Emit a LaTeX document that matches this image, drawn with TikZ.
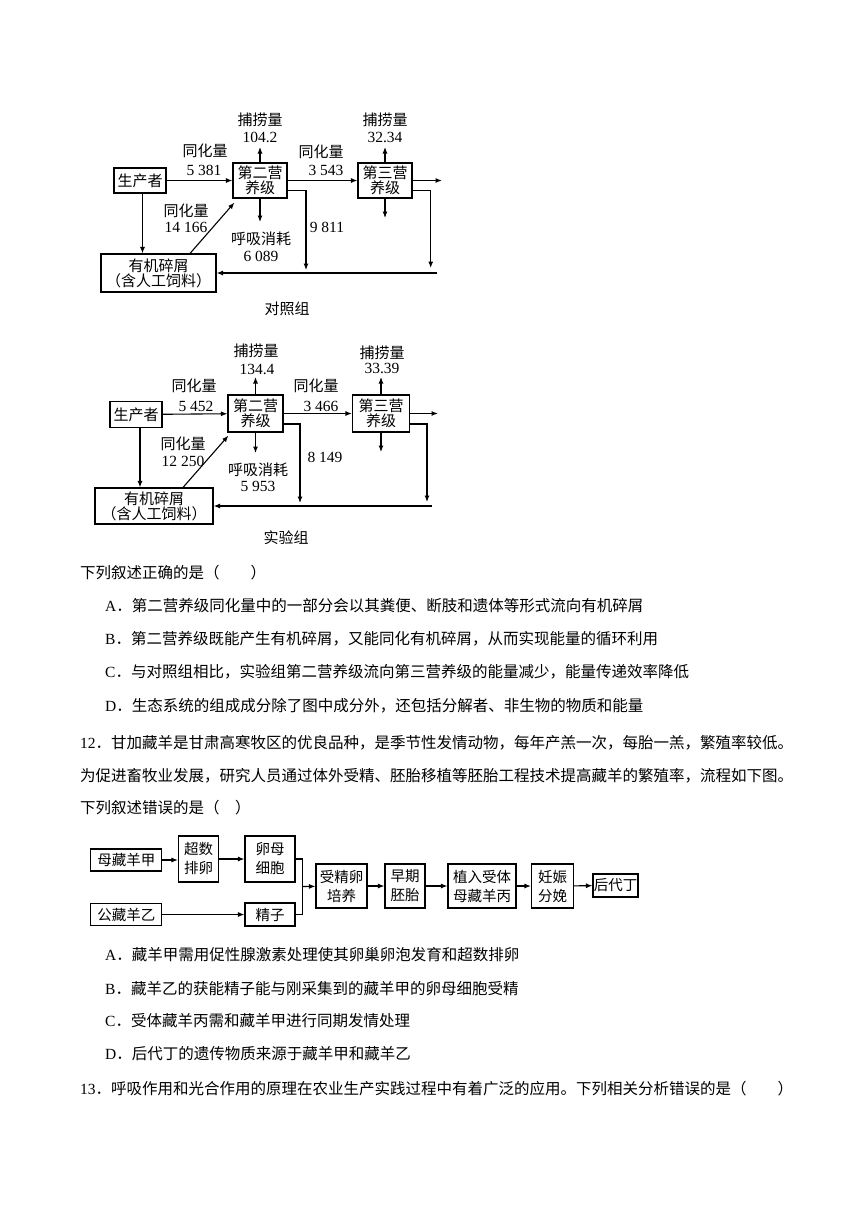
\documentclass[tikz,border=0pt]{standalone}
\usepackage{fontspec}
\setmainfont{Liberation Serif}
\newfontfamily\cjk{Noto Sans CJK SC}
\usetikzlibrary{arrows.meta}

\tikzset{
  box/.style={draw, line width=1.1pt, inner sep=0pt, align=center, font=\cjk\fontsize{15}{15}\selectfont},
  flowbox/.style={draw, line width=1.1pt, inner sep=0pt, align=center, font=\cjk\fontsize{14.5}{19}\selectfont},
  lbl/.style={inner sep=0pt, align=center, font=\cjk\fontsize{15}{16}\selectfont},
  num/.style={inner sep=0pt, font=\fontsize{15.5}{16}\selectfont},
  arr/.style={-{Latex[length=6.5pt,width=5pt]}, line width=1.1pt},
  line/.style={line width=1.1pt},
  txt/.style={inner sep=0pt, anchor=west, font=\cjk\fontsize{15.5}{18}\selectfont}
}

\begin{document}
\begin{tikzpicture}[x=1pt,y=-1pt]
    \useasboundingbox (0,0) rectangle (860,1216);

    % --- 对照组 ---
    \begin{scope}
        \node[box, minimum width=52, minimum height=25] (prodA) at (140,180.5) {生产者};
        \node[box, minimum width=54, minimum height=35] (secA) at (260,180.5) {第二营\\养级};
        \node[box, minimum width=54, minimum height=35] (thirdA) at (385,180.5) {第三营\\养级};
        \node[box, minimum width=115, minimum height=38] (debrisA) at (158.5,273) {有机碎屑\\（含人工饲料）};

        \coordinate (outA) at (442,180.5);
        \coordinate (catchA2) at (260,147);
        \coordinate (catchA3) at (385,147);
        \coordinate (respA2) at (260,222);
        \coordinate (respA3) at (385,218);
        \coordinate (dropA2) at (306,270);
        \coordinate (dropA3) at (430.7,268);
        \coordinate (backA) at (437,273);

        \draw[arr] (prodA) -- (secA);
        \draw[arr] (secA) -- (thirdA);
        \draw[arr] (thirdA.east) -- (outA);
        \draw[arr] (secA.north) -- (catchA2);
        \draw[arr] (thirdA.north) -- (catchA3);
        \draw[arr] (secA.south) -- (respA2);
        \draw[arr] (thirdA.south) -- (respA3);
        \draw[arr] ([yshift=-10]secA.east) -| (dropA2);
        \draw[arr] ([yshift=-10]thirdA.east) -| (dropA3);
        \draw[arr] (backA) -- (debrisA);
        \draw[arr] ([xshift=2.5]prodA.south) -- ([xshift=2.5]prodA.south |- debrisA.north);
        \draw[arr] ([xshift=31.5]debrisA.north) -- ([xshift=2,yshift=-4]secA.south west);

        \node[lbl] (bqA2) at (260,120) {捕捞量};
        \node[num] (bqvA2) at (260,137) {104.2};
        \node[lbl] (bqA3) at (385,120) {捕捞量};
        \node[num] (bqvA3) at (385,137) {32.34};
        \node[lbl] (thA1) at (205,151) {同化量};
        \node[num] (thvA1) at (204,170) {5 381};
        \node[lbl] (thA2) at (321,152) {同化量};
        \node[num] (thvA2) at (326,170) {3 543};
        \node[lbl] (thA3) at (186,211) {同化量};
        \node[num] (thvA3) at (186,227) {14 166};
        \node[lbl] (hxA) at (261,239) {呼吸消耗};
        \node[num] (hxvA) at (261,256) {6 089};
        \node[num] (dvA) at (327,227) {9 811};
        \node[lbl] (titleA) at (287,309) {对照组};
    \end{scope}

    % --- 实验组 ---
    \begin{scope}
        \node[box, minimum width=52, minimum height=26] (prodB) at (136,414.5) {生产者};
        \node[box, minimum width=55, minimum height=37] (secB) at (255.5,413.5) {第二营\\养级};
        \node[box, minimum width=57, minimum height=37] (thirdB) at (381,413.5) {第三营\\养级};
        \node[box, minimum width=118, minimum height=36] (debrisB) at (154,506) {有机碎屑\\（含人工饲料）};

        \coordinate (outB) at (438,413.5);
        \coordinate (catchB2) at (255.5,377);
        \coordinate (catchB3) at (381,377);
        \coordinate (respB2) at (255.5,453);
        \coordinate (respB3) at (381,452);
        \coordinate (dropB2) at (300,503);
        \coordinate (dropB3) at (427,502);
        \coordinate (backB) at (431.7,506);

        \draw[arr] (prodB) -- (secB);
        \draw[arr] (secB) -- (thirdB);
        \draw[arr] (thirdB.east) -- (outB);
        \draw[arr] (secB.north) -- (catchB2);
        \draw[arr] (thirdB.north) -- (catchB3);
        \draw[arr] (secB.south) -- (respB2);
        \draw[arr] (thirdB.south) -- (respB3);
        \draw[arr] ([yshift=-10.5]secB.east) -| (dropB2);
        \draw[arr] ([yshift=-10.5]thirdB.east) -| (dropB3);
        \draw[arr] (backB) -- (debrisB);
        \draw[arr] ([xshift=4]prodB.south) -- ([xshift=4]prodB.south |- debrisB.north);
        \draw[arr] ([xshift=29]debrisB.north) -- ([xshift=1,yshift=-3]secB.south west);

        \node[lbl] (bqB2) at (256,351) {捕捞量};
        \node[num] (bqvB2) at (257,369) {134.4};
        \node[lbl] (bqB3) at (382,353) {捕捞量};
        \node[num] (bqvB3) at (382,368) {33.39};
        \node[lbl] (thB1) at (194,386) {同化量};
        \node[num] (thvB1) at (196,406) {5 452};
        \node[lbl] (thB2) at (316,386) {同化量};
        \node[num] (thvB2) at (321,406) {3 466};
        \node[lbl] (thB3) at (183,444) {同化量};
        \node[num] (thvB3) at (183,461) {12 250};
        \node[lbl] (hxB) at (258,470) {呼吸消耗};
        \node[num] (hxvB) at (258,486) {5 953};
        \node[num] (dvB) at (325,457) {8 149};
        \node[lbl] (titleB) at (286,538) {实验组};
    \end{scope}

    % --- 第11题选项 ---
    \node[txt] (q11) at (80,573) {下列叙述正确的是（\hspace{2em}）};
    \node[txt] (q11a) at (105,606) {\textrm{A}．第二营养级同化量中的一部分会以其粪便、断肢和遗体等形式流向有机碎屑};
    \node[txt] (q11b) at (105,639) {\textrm{B}．第二营养级既能产生有机碎屑，又能同化有机碎屑，从而实现能量的循环利用};
    \node[txt] (q11c) at (105,672) {\textrm{C}．与对照组相比，实验组第二营养级流向第三营养级的能量减少，能量传递效率降低};
    \node[txt] (q11d) at (105,706) {\textrm{D}．生态系统的组成成分除了图中成分外，还包括分解者、非生物的物质和能量};

    % --- 第12题 ---
    \node[txt] (q12l1) at (80,743) {\textrm{12}．甘加藏羊是甘肃高寒牧区的优良品种，是季节性发情动物，每年产羔一次，每胎一羔，繁殖率较低。};
    \node[txt] (q12l2) at (80,776) {为促进畜牧业发展，研究人员通过体外受精、胚胎移植等胚胎工程技术提高藏羊的繁殖率，流程如下图。};
    \node[txt] (q12l3) at (80,808) {下列叙述错误的是（\hspace{1em}）};

    % --- 流程图 ---
    \node[flowbox, minimum width=71, minimum height=22] (ewe) at (126.3,860) {母藏羊甲};
    \node[flowbox, minimum width=40, minimum height=46] (superov) at (198.5,859) {超数\\排卵};
    \node[flowbox, minimum width=50, minimum height=46] (oocyte) at (270,859) {卵母\\细胞};
    \node[flowbox, minimum width=71, minimum height=22] (ram) at (126.3,914.5) {公藏羊乙};
    \node[flowbox, minimum width=50, minimum height=23] (sperm) at (270,914.5) {精子};
    \node[flowbox, minimum width=51, minimum height=44] (zygote) at (341.5,886) {受精卵\\培养};
    \node[flowbox, minimum width=40, minimum height=44] (embryo) at (405,886) {早期\\胚胎};
    \node[flowbox, minimum width=68, minimum height=44] (transfer) at (482,886) {植入受体\\母藏羊丙};
    \node[flowbox, minimum width=42, minimum height=44] (birth) at (552.5,886) {妊娠\\分娩};
    \node[flowbox, minimum width=45, minimum height=23] (offspring) at (615.5,885.5) {后代丁};
    \coordinate (joint) at (302.5,886.5);

    \draw[arr] (ewe.east) -- (ewe.east -| superov.west);
    \draw[arr] (superov) -- (oocyte);
    \draw[arr] (ram) -- (sperm);
    \draw[line] (oocyte.east) -| (joint);
    \draw[line] (sperm.east) -| (joint);
    \draw[arr] (joint) -- (zygote);
    \draw[arr] (zygote) -- (embryo);
    \draw[arr] (embryo) -- (transfer);
    \draw[arr] (transfer) -- (birth);
    \draw[arr] (birth) -- (offspring);

    % --- 第12题选项 ---
    \node[txt] (q12a) at (105,955) {\textrm{A}．藏羊甲需用促性腺激素处理使其卵巢卵泡发育和超数排卵};
    \node[txt] (q12b) at (105,989) {\textrm{B}．藏羊乙的获能精子能与刚采集到的藏羊甲的卵母细胞受精};
    \node[txt] (q12c) at (105,1021) {\textrm{C}．受体藏羊丙需和藏羊甲进行同期发情处理};
    \node[txt] (q12d) at (105,1054) {\textrm{D}．后代丁的遗传物质来源于藏羊甲和藏羊乙};

    % --- 第13题 ---
    \node[txt] (q13) at (80,1089) {\textrm{13}．呼吸作用和光合作用的原理在农业生产实践过程中有着广泛的应用。下列相关分析错误的是（\hspace{2em}）};
\end{tikzpicture}
\end{document}
